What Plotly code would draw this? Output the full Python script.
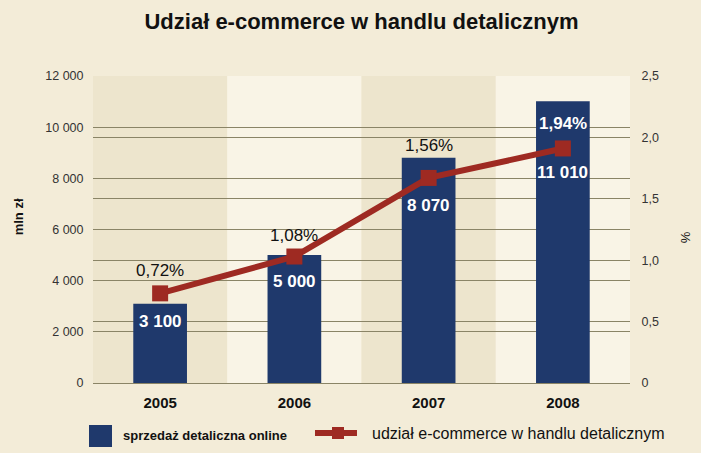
import plotly.graph_objects as go

# ---- data ----
years = ["2005", "2006", "2007", "2008"]
sales = [3100, 5000, 8800, 11010]          # bar heights as drawn (mln zł)
sales_labels = ["3 100", "5 000", "8 070", "11 010"]
share = [0.73, 1.03, 1.67, 1.91]            # line values as drawn (%)
share_labels = ["0,72%", "1,08%", "1,56%", "1,94%"]

left_ticks = [0, 2000, 4000, 6000, 8000, 10000, 12000]
left_ticktext = ["0", "2 000", "4 000", "6 000", "8 000", "10 000", "12 000"]
right_ticks = [0, 0.5, 1.0, 1.5, 2.0, 2.5]
right_ticktext = ["0", "0,5", "1,0", "1,5", "2,0", "2,5"]

title_text = "Udział e-commerce w handlu detalicznym"
left_title = "mln zł"
right_title = "%"
legend_bar = "sprzedaż detaliczna online"
legend_line = "udział e-commerce w handlu detalicznym"

# ---- styles ----
PAGE = "#f3ecd8"
BAND_DARK = "#ede5cd"
BAND_LIGHT = "#f9f4e6"
GRID = "#8a8466"
NAVY = "#1f396c"
RED = "#9e2a22"
SANS = "Liberation Sans, Arial, sans-serif"

sales_shift = [-18, -26, -48, -71]
share_shift = [23, 21, 32, 25]
share_colors = ["#111111", "#111111", "#111111", "#ffffff"]

fig = go.Figure()
fig.add_trace(go.Bar(
    x=years, y=sales, marker=dict(color=NAVY, line=dict(width=0)),
    width=0.4, yaxis="y", showlegend=False, hoverinfo="skip"))
fig.add_trace(go.Scatter(
    x=years, y=share, yaxis="y2", mode="lines+markers",
    line=dict(color=RED, width=6),
    marker=dict(symbol="square", size=16, color=RED),
    showlegend=False, hoverinfo="skip"))

shapes = []
for i, _ in enumerate(years):
    shapes.append(dict(type="rect", xref="x", yref="paper",
                       x0=i - 0.5, x1=i + 0.5, y0=0, y1=1,
                       fillcolor=BAND_DARK if i % 2 == 0 else BAND_LIGHT,
                       line=dict(width=0), layer="below"))

annotations = []
for i, (v, t, s) in enumerate(zip(sales, sales_labels, sales_shift)):
    annotations.append(dict(x=i, y=v, xref="x", yref="y", text=t, showarrow=False,
                            xanchor="center", yanchor="middle", yshift=s,
                            font=dict(family=SANS, size=17, color="white", weight="bold")))
for i, (v, t, s, c) in enumerate(zip(share, share_labels, share_shift, share_colors)):
    annotations.append(dict(x=i, y=v, xref="x", yref="y2", text=t, showarrow=False,
                            xanchor="center", yanchor="middle", yshift=s,
                            font=dict(family=SANS, size=17, color=c,
                                      weight="bold" if c == "#ffffff" else "normal")))

# axis titles
annotations.append(dict(x=-0.1395, y=0.54, xref="paper", yref="paper", text=left_title,
                        textangle=-90, showarrow=False, xanchor="center", yanchor="middle",
                        font=dict(family=SANS, size=13, color="#111", weight="bold")))
annotations.append(dict(x=1.1025, y=0.475, xref="paper", yref="paper", text=right_title,
                        textangle=-90, showarrow=False, xanchor="center", yanchor="middle",
                        font=dict(family=SANS, size=13, color="#111")))

# manual legend
shapes.append(dict(type="rect", xref="paper", yref="paper",
                   x0=-0.0074, x1=0.0354, y0=-0.2085, y1=-0.1368,
                   fillcolor=NAVY, line=dict(width=0)))
annotations.append(dict(x=0.0521, y=-0.1694, xref="paper", yref="paper", text=legend_bar,
                        xanchor="left", yanchor="middle", showarrow=False,
                        font=dict(family=SANS, size=13, color="#111", weight="bold")))
shapes.append(dict(type="line", xref="paper", yref="paper",
                   x0=0.4134, x1=0.4916, y0=-0.1629, y1=-0.1629,
                   line=dict(color=RED, width=6)))
shapes.append(dict(type="rect", xref="paper", yref="paper",
                   x0=0.4451, x1=0.4674, y0=-0.1824, y1=-0.1433,
                   fillcolor=RED, line=dict(width=0)))
annotations.append(dict(x=0.5158, y=-0.1629, xref="paper", yref="paper", text=legend_line,
                        xanchor="left", yanchor="middle", showarrow=False,
                        font=dict(family=SANS, size=16, color="#111")))

fig.update_layout(
    width=701, height=453,
    margin=dict(l=93, r=71, t=76, b=70),
    paper_bgcolor=PAGE, plot_bgcolor=PAGE,
    title=dict(text=title_text, x=0.5, xref="paper", y=0.952, yref="container",
               xanchor="center", yanchor="middle",
               font=dict(family=SANS, size=22, color="#111", weight="bold")),
    xaxis=dict(type="category", showgrid=False, zeroline=False, showline=False,
               ticks="outside", ticklen=6, tickcolor="rgba(0,0,0,0)",
               tickfont=dict(family=SANS, size=15, color="#111", weight="bold"),
               range=[-0.5, 3.5]),
    yaxis=dict(range=[0, 12000], tickvals=left_ticks, ticktext=left_ticktext,
               showgrid=True, gridcolor=GRID, gridwidth=1,
               zeroline=True, zerolinecolor=GRID, zerolinewidth=1,
               showline=False, ticks="outside", ticklen=6, tickcolor="rgba(0,0,0,0)",
               tickfont=dict(family=SANS, size=12.5, color="#333")),
    yaxis2=dict(range=[0, 2.5], tickvals=right_ticks, ticktext=right_ticktext,
                overlaying="y", side="right",
                showgrid=True, gridcolor=GRID, gridwidth=1,
                zeroline=True, zerolinecolor=GRID, zerolinewidth=1,
                showline=False, ticks="outside", ticklen=8, tickcolor="rgba(0,0,0,0)",
                tickfont=dict(family=SANS, size=12.5, color="#333")),
    shapes=shapes, annotations=annotations,
    bargap=0.6,
)

fig.write_html("out.html",
               config={"displayModeBar": False},
               post_script="document.body.style.margin='0px';"
                           "document.body.style.background='" + PAGE + "';")
